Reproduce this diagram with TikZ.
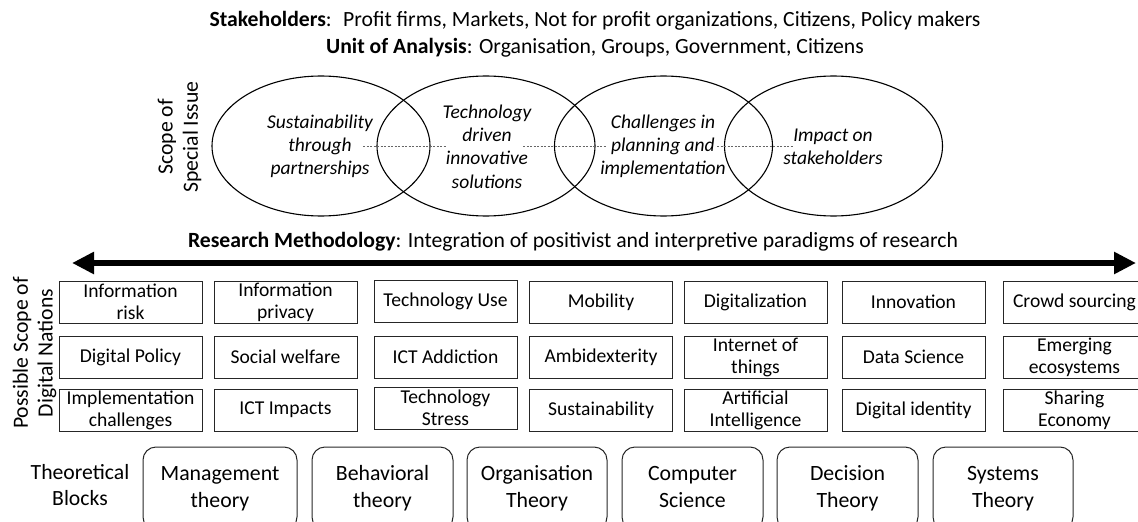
\documentclass[tikz,border=0pt]{standalone}
\usepackage{fontspec}
\setmainfont{Carlito}
\usetikzlibrary{arrows.meta,shapes.geometric}
\begin{document}
\begin{tikzpicture}[x=1pt,y=-1pt,
  box/.style={draw=black!85, line width=1pt, minimum width=143pt, minimum height=42pt, inner sep=0pt, align=center, font=\fontsize{19.6}{22}\selectfont},
  blk/.style={draw=black!85, line width=1pt, rounded corners=13pt, minimum height=83pt, inner sep=0pt, align=center, font=\fontsize{21.8}{27}\selectfont},
  big/.style={font=\fontsize{21.7}{26.5}\selectfont, inner sep=0pt, align=center},
  ital/.style={font=\fontsize{19.5}{23.2}\selectfont\itshape, inner sep=0pt, align=center},
  ell/.style={draw, line width=1.1pt, ellipse, minimum width=218pt, minimum height=140pt, inner sep=0pt, outer sep=0pt},
  dline/.style={draw=black!60, line width=0.6pt, dash pattern=on 2pt off 1.5pt},
  bigarrow/.style={line width=6pt, {Triangle[length=22pt,width=21pt]}-{Triangle[length=22pt,width=21pt]}},
]
\useasboundingbox (0,0) rectangle (1138,522);
\clip (0,0) rectangle (1138,522);

% header
\node[big, anchor=base] (sh) at (595,27) {\textbf{Stakeholders}:~ Profit firms, Markets, Not for profit organizations, Citizens, Policy makers};
\node[big, anchor=base] (ua) at (595,53) {\textbf{Unit of Analysis}: Organisation, Groups, Government, Citizens};

% scope of special issue
\node[big, rotate=90] (sc1) at (167,137) {Scope of};
\node[big, rotate=90] (sc2) at (192,137) {Special Issue};

\node[ell] (e1) at (321,146) {};
\node[ell] (e2) at (486,146) {};
\node[ell] (e3) at (663.5,146) {};
\node[ell] (e4) at (833.5,146) {};

\coordinate (d1a) at (363,146); \coordinate (d1b) at (447,146);
\coordinate (d2a) at (523,146); \coordinate (d2b) at (607,146);
\coordinate (d3a) at (717,146); \coordinate (d3b) at (793,146);
\draw[dline] (d1a) -- (d1b);
\draw[dline] (d2a) -- (d2b);
\draw[dline] (d3a) -- (d3b);

\node[ital] (t1) at (320,146) {Sustainability\\through\\partnerships};
\node[ital] (t2) at (487,146.5) {Technology\\driven\\innovative\\solutions};
\node[ital] (t3) at (663,146) {Challenges in\\planning and\\implementation};
\node[ital] (t4) at (833,146.5) {Impact on\\stakeholders};

% research methodology
\node[big, anchor=base] (rm) at (573,247) {\textbf{Research Methodology}: Integration of positivist and interpretive paradigms of research};
\coordinate (aL) at (72,263);
\coordinate (aR) at (1136,263);
\draw[bigarrow] (aL) -- (aR);

% possible scope
\node[big, rotate=90] (ps1) at (22,353) {Possible Scope of};
\node[big, rotate=90] (ps2) at (47,353) {Digital Nations};

\node[box] (b11) at (130.5,302) {Information\\risk};
\node[box] (b12) at (285.5,302) {Information\\privacy};
\node[box] (b13) at (445.5,301) {Technology Use};
\node[box] (b14) at (601,302) {Mobility};
\node[box] (b15) at (755.5,302) {Digitalization};
\node[box] (b16) at (913.5,302) {Innovation};
\node[box] (b17) at (1074.5,302) {Crowd sourcing};

\node[box] (b21) at (130.5,357) {Digital Policy};
\node[box] (b22) at (285.5,357) {Social welfare};
\node[box] (b23) at (445.5,357) {ICT Addiction};
\node[box] (b24) at (601,357) {Ambidexterity};
\node[box] (b25) at (755.5,357) {Internet of\\things};
\node[box] (b26) at (913.5,357) {Data Science};
\node[box] (b27) at (1074.5,357) {Emerging\\ecosystems};

\node[box] (b31) at (130.5,410) {Implementation\\challenges};
\node[box] (b32) at (285.5,410) {ICT Impacts};
\node[box] (b33) at (445.5,408) {Technology\\Stress};
\node[box] (b34) at (601,410) {Sustainability};
\node[box] (b35) at (755.5,410) {Artificial\\Intelligence};
\node[box] (b36) at (913.5,410) {Digital identity};
\node[box] (b37) at (1074.5,410) {Sharing\\Economy};

% theoretical blocks
\node[big] (tb) at (80,485) {Theoretical\\Blocks};
\node[blk, minimum width=154pt] (k1) at (220,488.5) {Management\\theory};
\node[blk, minimum width=141pt] (k2) at (382.5,488.5) {Behavioral\\theory};
\node[blk, minimum width=140pt] (k3) at (537,488.5) {Organisation\\Theory};
\node[blk, minimum width=141pt] (k4) at (692.5,488.5) {Computer\\Science\vphantom{y}};
\node[blk, minimum width=141pt] (k5) at (847.5,488.5) {Decision\\Theory};
\node[blk, minimum width=140pt] (k6) at (1003,488.5) {Systems\\Theory};
\end{tikzpicture}
\end{document}
